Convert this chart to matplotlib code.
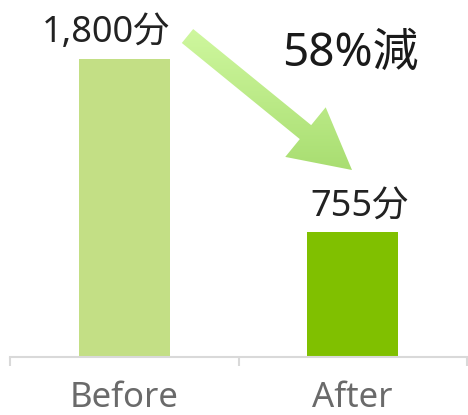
import numpy as np
import matplotlib
matplotlib.use("Agg")
import matplotlib.pyplot as plt
from matplotlib.patches import Polygon

# データ
categories = ["Before", "After"]
minutes = [1800, 755]
value_labels = ["1,800分", "755分"]
reduction_label = "58%減"

bar_colors = ["#c3df85", "#80c000"]
fonts = ["Noto Sans", "Noto Sans CJK JP", "DejaVu Sans"]

W, H = 468, 415
fig = plt.figure(figsize=(W / 100, H / 100), dpi=100)

# メインの棒グラフ
ax = fig.add_axes([10 / W, 58 / H, 457 / W, 357 / H])
x = np.arange(len(categories))
bars = ax.bar(x, minutes, width=0.4, color=bar_colors, zorder=2)
ax.set_xlim(-0.5, 1.5)
ax.set_ylim(0, 2156)

for s in ["top", "left", "right"]:
    ax.spines[s].set_visible(False)
ax.spines["bottom"].set_color("#d9d9d9")
ax.spines["bottom"].set_linewidth(1.5)
ax.set_yticks([])

ax.set_xticks(x)
ax.set_xticklabels(categories, family=fonts, fontsize=25, color="#6a6a6a")
ax.tick_params(axis="x", which="major", length=0, pad=17)
ax.set_xticks([-0.5, 0.5, 1.5], minor=True)
ax.tick_params(axis="x", which="minor", length=6.5, width=1.5, color="#d9d9d9",
               direction="out")

# 値ラベル
offsets = [(-13, 12), (5, 11)]
for b, lab, off in zip(bars, value_labels, offsets):
    ax.annotate(lab, (b.get_x() + b.get_width() / 2, b.get_height()),
                xytext=off, textcoords="offset points", ha="center", va="baseline",
                family=fonts, fontsize=26, color="#222222")

# 矢印と減少率（ピクセル座標のオーバーレイ）
ov = fig.add_axes([0, 0, 1, 1], facecolor="none")
ov.set_xlim(0, W)
ov.set_ylim(H, 0)
ov.axis("off")

tail = np.array([187.5, 36.0])
tip = np.array([352.0, 170.0])
d = tip - tail
L = np.hypot(*d)
u = d / L
n = np.array([-u[1], u[0]])
shaft_w, head_w, head_l = 18, 64, 60
base = tip - u * head_l
pts = [tail + n * shaft_w / 2, base + n * shaft_w / 2, base + n * head_w / 2, tip,
       base - n * head_w / 2, base - n * shaft_w / 2, tail - n * shaft_w / 2]
arrow = Polygon(pts, closed=True, facecolor="none", edgecolor="none")
ov.add_patch(arrow)
grad = np.linspace(0, 1, 256).reshape(-1, 1)
cmap = matplotlib.colors.LinearSegmentedColormap.from_list("g", ["#d0f8a0", "#a6dc6e"])
im = ov.imshow(grad, cmap=cmap, extent=[170, 360, 180, 25], aspect="auto",
               interpolation="bilinear")
im.set_clip_path(arrow)
ov.set_xlim(0, W)
ov.set_ylim(H, 0)

ov.text(350, 66, reduction_label, ha="center", va="baseline", family=fonts,
        fontsize=33, color="#1a1a1a")

fig.savefig("out.png", dpi=100)
